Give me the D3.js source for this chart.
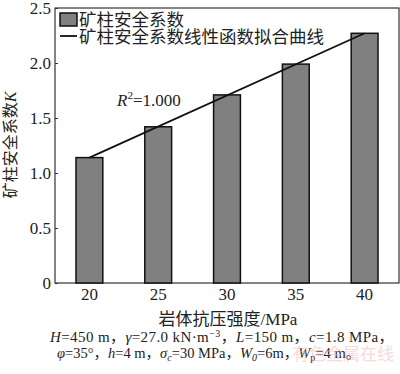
<!DOCTYPE html>
<html>
<head>
<meta charset="utf-8">
<script src="https://cdn.jsdelivr.net/npm/d3@7"></script>
<style>
body{margin:0;background:#fff}
svg text{font-family:"Liberation Serif","Noto Sans CJK SC",serif;fill:#222}
</style>
</head>
<body>
<div id="chart"></div>
<script>
var strengths = [20, 25, 30, 35, 40]
var safety = [1.14, 1.42, 1.71, 1.99, 2.27]
var yTicks = [0, 0.5, 1.0, 1.5, 2.0, 2.5]
var legendLabels = ["矿柱安全系数", "矿柱安全系数线性函数拟合曲线"]

var width = 400, height = 374
var margin = {left: 55, right: 1, top: 8, bottom: 91}

var svg = d3.select("#chart").append("svg").attr("width", width).attr("height", height)

var x = d3.scaleBand().domain(strengths).range([margin.left, width - margin.right])
	.paddingInner(0.61).paddingOuter(0.305)
var y = d3.scaleLinear().domain([0, 2.5]).range([height - margin.bottom, margin.top])

// frame
svg.append("rect")
	.attr("x", margin.left).attr("y", margin.top)
	.attr("width", width - margin.right - margin.left)
	.attr("height", height - margin.bottom - margin.top)
	.attr("fill", "none").attr("stroke", "#333").attr("stroke-width", 1.2)

// bars
svg.selectAll(".bar").data(strengths).enter().append("rect")
	.attr("x", function(d){ return x(d) })
	.attr("y", function(d, i){ return y(safety[i]) })
	.attr("width", x.bandwidth())
	.attr("height", function(d, i){ return y(0) - y(safety[i]) })
	.attr("fill", "#808080").attr("stroke", "#111").attr("stroke-width", 1.5)

// fit line, first to last bar top
var fit = [0, strengths.length - 1]
var line = d3.line()
	.x(function(i){ return x(strengths[i]) + x.bandwidth() / 2 })
	.y(function(i){ return y(safety[i]) })
svg.append("path").attr("d", line(fit))
	.attr("stroke", "#111").attr("stroke-width", 1.8).attr("fill", "none")

// y axis
var yAxis = svg.append("g").attr("transform", "translate(" + margin.left + ",0)")
	.call(d3.axisLeft(y).tickValues(yTicks).tickSizeInner(-3).tickSizeOuter(0)
		.tickFormat(function(d){ return d == 0 ? "0" : d3.format(".1f")(d) }))
yAxis.select(".domain").remove()
yAxis.selectAll("line").attr("stroke", "#333")
yAxis.selectAll("text").attr("x", -4).style("font-size", "17px")

// x axis
var xAxis = svg.append("g").attr("transform", "translate(0," + (height - margin.bottom) + ")")
	.call(d3.axisBottom(x).tickSize(0))
xAxis.select(".domain").remove()
xAxis.selectAll("text").attr("y", 5).style("font-size", "17px")

// axis titles
svg.append("text")
	.attr("transform", "translate(16," + 145 + ") rotate(-90)")
	.attr("text-anchor", "middle").style("font-size", "16px")
	.text("矿柱安全系数").append("tspan").style("font-style", "italic").text("K")

svg.append("text").attr("x", 228).attr("y", 325).attr("text-anchor", "middle")
	.style("font-size", "17px").text("岩体抗压强度/MPa")

// legend
svg.append("rect").attr("x", 60).attr("y", 13).attr("width", 17).attr("height", 13)
	.attr("fill", "#808080").attr("stroke", "#111").attr("stroke-width", 1.5)
svg.append("text").attr("x", 79).attr("y", 26).style("font-size", "17.5px").text(legendLabels[0])
svg.append("line").attr("x1", 60).attr("x2", 77).attr("y1", 36).attr("y2", 36)
	.attr("stroke", "#111").attr("stroke-width", 1.8)
svg.append("text").attr("x", 79).attr("y", 43).style("font-size", "17.5px").text(legendLabels[1])

// R^2
var r2 = svg.append("text").attr("x", 117).attr("y", 106).style("font-size", "17px")
r2.append("tspan").style("font-style", "italic").text("R")
r2.append("tspan").attr("dy", -7).style("font-size", "11px").text("2")
r2.append("tspan").attr("dy", 7).text("=1.000")

// parameter notes
var note1 = svg.append("text").attr("x", 50).attr("y", 342).style("font-size", "15px")
	.style("letter-spacing", "0.4px")
note1.append("tspan").style("font-style", "italic").text("H")
note1.append("tspan").text("=450 m，")
note1.append("tspan").style("font-style", "italic").text("γ")
note1.append("tspan").text("=27.0 kN·m")
note1.append("tspan").attr("dy", -5).style("font-size", "10px").text("−3")
note1.append("tspan").attr("dy", 5).text("，")
note1.append("tspan").style("font-style", "italic").text("L")
note1.append("tspan").text("=150 m，")
note1.append("tspan").style("font-style", "italic").text("c")
note1.append("tspan").text("=1.8 MPa，")

var note2 = svg.append("text").attr("x", 57).attr("y", 358).style("font-size", "14.5px")
note2.append("tspan").style("font-style", "italic").text("φ")
note2.append("tspan").text("=35°，")
note2.append("tspan").style("font-style", "italic").text("h")
note2.append("tspan").text("=4 m，")
note2.append("tspan").style("font-style", "italic").text("σ")
note2.append("tspan").attr("dy", 3).style("font-size", "10px").style("font-style", "italic").text("c")
note2.append("tspan").attr("dy", -3).text("=30 MPa，")
note2.append("tspan").style("font-style", "italic").text("W")
note2.append("tspan").attr("dy", 3).style("font-size", "10px").style("font-style", "italic").text("0")
note2.append("tspan").attr("dy", -3).text("=6m，")
note2.append("tspan").style("font-style", "italic").text("W")
note2.append("tspan").attr("dy", 3).style("font-size", "10px").text("p")
note2.append("tspan").attr("dy", -3).text("=4 m。")

// watermark
svg.append("text").attr("x", 292).attr("y", 360).style("font-size", "17px")
	.style("fill", "#f0b8b8").attr("opacity", 0.5).text("有色金属在线")
</script>
</body>
</html>
